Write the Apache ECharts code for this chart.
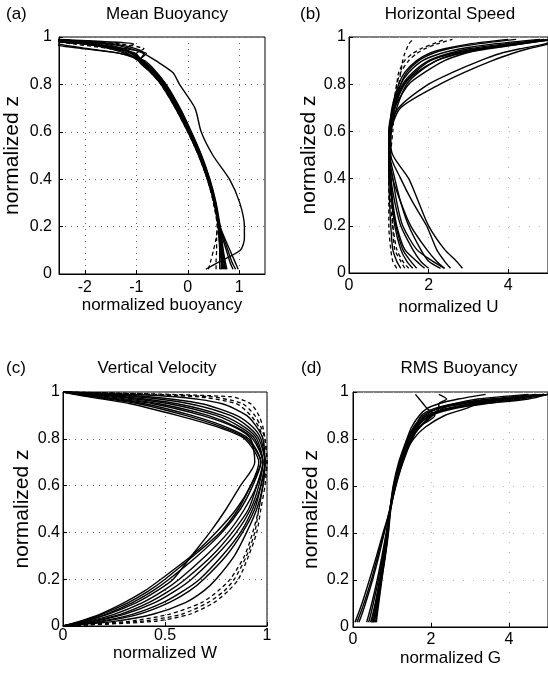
<!DOCTYPE html>
<html>
<head>
<meta charset="utf-8">
<title>normalized profiles</title>
<script src="https://cdn.jsdelivr.net/npm/echarts@6/dist/echarts.min.js"></script>
<style>
  html, body { margin: 0; padding: 0; background: #fff; }
  #chart { width: 548px; height: 677px; }
</style>
</head>
<body>
<div id="chart"></div>
<script>
// z levels (normalized height) the profiles are read at
const zBuoy = [0.02, 0.05, 0.1, 0.15, 0.2, 0.3, 0.4, 0.5, 0.6, 0.7, 0.8, 0.85, 0.9, 0.93, 0.95, 0.97, 0.98, 0.99];
const zSpeed = [0.02, 0.05, 0.1, 0.2, 0.3, 0.4, 0.5, 0.6, 0.7, 0.8, 0.85, 0.9, 0.93, 0.95, 0.97, 0.99];
const zVel = [0, 0.02, 0.05, 0.1, 0.15, 0.2, 0.3, 0.4, 0.5, 0.6, 0.7, 0.8, 0.85, 0.9, 0.95, 0.98, 1.0];
const zRms = [0.02, 0.05, 0.1, 0.2, 0.3, 0.4, 0.5, 0.6, 0.7, 0.8, 0.85, 0.9, 0.93, 0.95, 0.97, 0.99];

// (a) mean buoyancy
const meanBuoyancy = [
  [0.72, 0.70, 0.67, 0.64, 0.61, 0.53, 0.41, 0.25, 0.05, -0.18, -0.46, -0.66, -0.90, -1.10, -1.30, -1.75, -2.20, -2.60],
  [0.66, 0.65, 0.63, 0.61, 0.59, 0.51, 0.38, 0.21, 0.00, -0.24, -0.52, -0.72, -0.96, -1.16, -1.42, -1.95, -2.45, -2.60],
  [0.76, 0.73, 0.69, 0.66, 0.63, 0.55, 0.43, 0.27, 0.07, -0.15, -0.42, -0.62, -0.86, -1.04, -1.24, -1.60, -2.05, -2.60],
  [0.98, 0.92, 0.82, 0.72, 0.63, 0.53, 0.40, 0.24, 0.03, -0.20, -0.48, -0.68, -0.92, -1.20, -1.50, -2.00, -2.50, -2.60],
  [0.93, 0.86, 0.78, 0.70, 0.62, 0.52, 0.40, 0.23, 0.02, -0.21, -0.49, -0.70, -0.93, -0.85, -1.00, -1.40, -1.90, -2.60],
  [0.35, 0.60, 1.02, 1.10, 1.10, 1.01, 0.81, 0.49, 0.26, 0.14, -0.16, -0.29, -0.62, -0.85, -1.10, -1.50, -2.00, -2.60],
  [0.40, 0.44, 0.50, 0.55, 0.58, 0.50, 0.40, 0.24, 0.04, -0.19, -0.47, -0.67, -0.91, -1.00, -0.85, -1.30, -1.80, -2.60],
  [0.62, 0.62, 0.62, 0.61, 0.60, 0.52, 0.40, 0.23, 0.02, -0.21, -0.50, -0.69, -0.93, -1.30, -1.90, -2.50, -2.60, -2.60],
  [0.88, 0.82, 0.75, 0.68, 0.62, 0.53, 0.41, 0.24, 0.04, -0.19, -0.47, -0.67, -0.91, -1.00, -1.40, -2.00, -2.40, -2.60],
  [0.55, 0.55, 0.56, 0.56, 0.57, 0.50, 0.38, 0.21, 0.00, -0.24, -0.52, -0.72, -0.96, -1.20, -1.50, -2.20, -2.50, -2.60],
  [0.70, 0.68, 0.66, 0.63, 0.60, 0.52, 0.39, 0.22, 0.01, -0.22, -0.50, -0.70, -0.94, -1.18, -1.20, -1.05, -1.60, -2.60],
  [0.64, 0.66, 0.65, 0.63, 0.61, 0.54, 0.42, 0.26, 0.06, -0.17, -0.45, -0.64, -0.88, -1.08, -1.35, -1.85, -2.30, -2.60],
  [0.68, 0.67, 0.64, 0.62, 0.60, 0.53, 0.42, 0.26, 0.06, -0.16, -0.43, -0.60, -0.84, -1.30, -2.00, -2.60, -2.60, -2.60],
  [0.74, 0.71, 0.68, 0.65, 0.62, 0.54, 0.40, 0.22, 0.01, -0.23, -0.51, -0.71, -0.95, -0.80, -1.20, -1.80, -2.30, -2.60]
];
const meanBuoyancyDashed = [6, 9];

// (b) horizontal speed
const horizontalSpeed = [
  [1.30, 1.20, 1.10, 1.05, 1.02, 1.00, 1.00, 1.02, 1.10, 1.30, 1.50, 1.85, 2.30, 2.80, 3.60, 4.80],
  [2.00, 1.80, 1.60, 1.30, 1.15, 1.05, 1.00, 1.03, 1.12, 1.35, 1.60, 2.00, 2.50, 3.00, 3.90, 5.10],
  [2.40, 2.20, 1.95, 1.55, 1.30, 1.10, 1.02, 1.05, 1.15, 1.40, 1.70, 2.20, 2.70, 3.30, 4.20, 5.20],
  [2.55, 2.40, 2.20, 1.95, 1.60, 1.30, 1.05, 1.06, 1.30, 2.29, 2.90, 3.60, 4.10, 4.50, 5.00, 5.20],
  [2.85, 2.70, 2.40, 2.00, 1.75, 1.50, 1.10, 1.00, 1.25, 2.00, 2.60, 3.30, 3.80, 4.30, 4.90, 5.20],
  [1.50, 1.35, 1.20, 1.10, 1.05, 1.05, 1.05, 1.10, 1.15, 1.25, 1.30, 1.35, 1.40, 1.45, 1.50, 1.60],
  [1.90, 1.70, 1.40, 1.20, 1.10, 1.05, 1.00, 1.05, 1.15, 1.50, 1.90, 2.40, 2.90, 3.40, 4.30, 5.10],
  [2.30, 2.00, 1.80, 1.50, 1.30, 1.15, 1.02, 1.00, 1.10, 1.30, 1.45, 1.75, 2.10, 2.50, 3.20, 4.20],
  [1.20, 1.10, 1.05, 1.00, 1.00, 1.00, 1.00, 1.05, 1.15, 1.20, 1.30, 1.50, 1.70, 1.90, 2.20, 2.60],
  [2.40, 2.10, 1.70, 1.35, 1.20, 1.10, 1.00, 1.05, 1.20, 1.45, 1.75, 2.20, 2.80, 3.50, 4.30, 5.00],
  [1.60, 1.45, 1.30, 1.15, 1.08, 1.03, 1.00, 1.02, 1.08, 1.25, 1.40, 1.70, 2.00, 2.40, 3.00, 4.00],
  [1.40, 1.30, 1.15, 1.10, 1.08, 1.05, 1.03, 1.05, 1.10, 1.20, 1.25, 1.40, 1.60, 1.80, 2.10, 2.40],
  [1.70, 1.55, 1.35, 1.18, 1.08, 1.02, 1.00, 1.03, 1.12, 1.38, 1.65, 2.05, 2.60, 3.20, 4.00, 4.90]
];
const horizontalSpeedDashed = [5, 8, 11];

// (c) vertical velocity
const verticalVelocity = [
  [0, 0.08, 0.18, 0.30, 0.40, 0.48, 0.63, 0.75, 0.85, 0.92, 0.96, 0.89, 0.76, 0.56, 0.33, 0.12, 0],
  [0, 0.10, 0.21, 0.34, 0.44, 0.52, 0.66, 0.78, 0.87, 0.93, 0.97, 0.91, 0.80, 0.63, 0.40, 0.16, 0],
  [0, 0.12, 0.25, 0.39, 0.49, 0.57, 0.70, 0.81, 0.89, 0.95, 0.98, 0.93, 0.85, 0.71, 0.47, 0.22, 0],
  [0, 0.15, 0.30, 0.45, 0.55, 0.63, 0.75, 0.85, 0.92, 0.96, 0.98, 0.95, 0.89, 0.78, 0.56, 0.30, 0],
  [0, 0.20, 0.37, 0.52, 0.62, 0.69, 0.80, 0.88, 0.94, 0.97, 0.99, 0.97, 0.93, 0.85, 0.68, 0.42, 0],
  [0, 0.25, 0.44, 0.60, 0.69, 0.75, 0.84, 0.90, 0.95, 0.98, 0.99, 0.98, 0.95, 0.90, 0.78, 0.55, 0],
  [0, 0.32, 0.52, 0.68, 0.76, 0.82, 0.89, 0.93, 0.96, 0.98, 1.00, 0.99, 0.97, 0.94, 0.88, 0.72, 0],
  [0, 0.45, 0.62, 0.74, 0.81, 0.86, 0.91, 0.95, 0.97, 0.99, 1.00, 0.99, 0.98, 0.96, 0.92, 0.82, 0],
  [0, 0.10, 0.22, 0.36, 0.46, 0.54, 0.63, 0.72, 0.80, 0.87, 0.94, 0.92, 0.84, 0.68, 0.44, 0.18, 0],
  [0, 0.18, 0.34, 0.49, 0.59, 0.67, 0.78, 0.87, 0.93, 0.97, 0.99, 0.96, 0.91, 0.82, 0.62, 0.36, 0],
  [0, 0.09, 0.19, 0.32, 0.42, 0.50, 0.64, 0.77, 0.86, 0.92, 0.97, 0.90, 0.78, 0.60, 0.37, 0.14, 0],
  [0, 0.14, 0.28, 0.42, 0.52, 0.60, 0.73, 0.83, 0.91, 0.95, 0.98, 0.94, 0.87, 0.75, 0.52, 0.26, 0],
  [0, 0.38, 0.58, 0.71, 0.79, 0.84, 0.90, 0.94, 0.96, 0.98, 0.99, 0.98, 0.96, 0.92, 0.85, 0.65, 0]
];
const verticalVelocityDashed = [6, 7, 12];

// (d) rms buoyancy
const rmsBuoyancy = [
  [0.50, 0.55, 0.60, 0.70, 0.80, 0.88, 0.95, 1.05, 1.20, 1.40, 1.55, 1.80, 2.20, 2.80, 3.80, 4.90],
  [0.45, 0.50, 0.57, 0.68, 0.78, 0.87, 0.95, 1.07, 1.22, 1.45, 1.60, 1.90, 2.40, 3.10, 4.10, 5.00],
  [0.55, 0.58, 0.63, 0.72, 0.82, 0.90, 0.96, 1.08, 1.25, 1.48, 1.65, 1.95, 2.50, 3.30, 4.30, 5.00],
  [0.10, 0.17, 0.28, 0.47, 0.63, 0.79, 0.95, 1.05, 1.20, 1.55, 1.85, 2.35, 2.90, 3.20, 3.90, 4.90],
  [0.05, 0.12, 0.23, 0.42, 0.60, 0.77, 0.95, 1.06, 1.22, 1.45, 1.62, 2.00, 2.60, 3.40, 4.50, 5.00],
  [0.60, 0.62, 0.66, 0.74, 0.82, 0.89, 0.95, 1.03, 1.17, 1.38, 1.50, 1.70, 1.90, 2.20, 2.70, 3.40],
  [0.35, 0.40, 0.48, 0.62, 0.74, 0.85, 0.95, 1.08, 1.26, 1.50, 1.68, 2.10, 1.90, 1.80, 1.70, 1.60],
  [0.40, 0.45, 0.52, 0.65, 0.76, 0.86, 0.96, 1.10, 1.28, 1.52, 1.70, 2.00, 2.20, 2.20, 2.40, 2.20],
  [0.52, 0.56, 0.61, 0.71, 0.81, 0.89, 0.96, 1.06, 1.21, 1.43, 1.58, 1.85, 2.20, 2.80, 3.70, 4.90],
  [0.15, 0.22, 0.32, 0.50, 0.66, 0.80, 0.94, 1.04, 1.19, 1.40, 1.57, 1.90, 2.50, 3.00, 4.00, 5.00],
  [0.58, 0.60, 0.64, 0.73, 0.83, 0.91, 0.97, 1.09, 1.27, 1.50, 1.72, 2.05, 2.30, 2.60, 3.20, 4.50],
  [0.48, 0.52, 0.58, 0.69, 0.79, 0.88, 0.95, 1.06, 1.23, 1.46, 1.60, 1.75, 2.10, 2.60, 3.50, 4.70]
];

const buoyTicks = [-2, -1, 0, 1];
const speedTicks = [0, 2, 4];
const velTicks = [0, 0.5, 1];
const rmsTicks = [0, 2, 4];

const FONT = 'Liberation Sans, Arial, sans-serif';

const chart = echarts.init(document.getElementById('chart'));

function profileSeries(profiles, zs, idx, dashed) {
  return profiles.map((xs, k) => {
    const isDashed = dashed.indexOf(k) >= 0;
    return {
      type: 'line',
      xAxisIndex: idx,
      yAxisIndex: idx,
      data: zs.map((z, i) => [xs[i], z]),
      symbol: 'none',
      smooth: 0.25,
      silent: true,
      clip: true,
      lineStyle: {
        color: '#000',
        width: isDashed ? 1.3 : 1.4,
        type: isDashed ? [4, 3] : 'solid'
      }
    };
  });
}

function xAxis(idx, min, max, ticks, name, margin, gap, faint) {
  return {
    type: 'value',
    gridIndex: idx,
    min: min,
    max: max,
    name: name,
    nameLocation: 'middle',
    nameGap: gap,
    nameTextStyle: { color: '#000', fontSize: 17, fontFamily: FONT },
    axisLine: { show: true, onZero: false, lineStyle: { color: '#000', width: 1 } },
    axisTick: { show: true, inside: true, length: 4, customValues: ticks, lineStyle: { color: '#000' } },
    axisLabel: { customValues: ticks, margin: margin, color: '#000', fontSize: 16, fontFamily: FONT },
    splitLine: { show: true, lineStyle: { color: faint ? '#bbb' : '#666', type: faint ? [1, 9] : [1, 5], width: 1 } }
  };
}

function yAxis(idx, margin, gap, faint) {
  return {
    type: 'value',
    gridIndex: idx,
    min: 0,
    max: 1,
    interval: 0.2,
    name: 'normalized z',
    nameLocation: 'middle',
    nameGap: gap,
    nameTextStyle: { color: '#000', fontSize: 21, fontFamily: FONT },
    axisLine: { show: true, onZero: false, lineStyle: { color: '#000', width: 1 } },
    axisTick: { show: true, inside: true, length: 4, lineStyle: { color: '#000' } },
    axisLabel: { margin: margin, color: '#000', fontSize: 16, fontFamily: FONT },
    splitLine: { show: true, lineStyle: { color: faint ? '#bbb' : '#666', type: faint ? [1, 9] : [1, 5], width: 1 } }
  };
}

function titleItem(text, left, top, align) {
  return {
    text: text,
    left: left,
    top: top,
    padding: 0,
    textAlign: align,
    textStyle: { color: '#000', fontSize: 17, fontWeight: 'normal', fontFamily: FONT }
  };
}

const gridStyle = { show: true, borderColor: '#000', borderWidth: 1, backgroundColor: 'transparent' };

const option = {
  animation: false,
  backgroundColor: '#fff',
  title: [
    titleItem('(a)', 6, 6, 'left'),
    titleItem('Mean Buoyancy', 167, 6, 'center'),
    titleItem('(b)', 300, 6, 'left'),
    titleItem('Horizontal Speed', 450, 6, 'center'),
    titleItem('(c)', 6, 360, 'left'),
    titleItem('Vertical Velocity', 157, 360, 'center'),
    titleItem('(d)', 301, 360, 'left'),
    titleItem('RMS Buoyancy', 459, 360, 'center')
  ],
  grid: [
    Object.assign({ left: 59, top: 37, width: 206, height: 237 }, gridStyle),
    Object.assign({ left: 349, top: 37, width: 202, height: 236 }, gridStyle),
    Object.assign({ left: 63, top: 392, width: 204, height: 234 }, gridStyle),
    Object.assign({ left: 353, top: 392, width: 202, height: 235 }, gridStyle)
  ],
  xAxis: [
    xAxis(0, -2.5, 1.5, buoyTicks, 'normalized buoyancy', 6, 23, false),
    xAxis(1, 0, 5, speedTicks, 'normalized U', 5, 26, true),
    xAxis(2, 0, 1, velTicks, 'normalized W', 2, 19, false),
    xAxis(3, 0, 5, rmsTicks, 'normalized G', 5, 23, true)
  ],
  yAxis: [
    yAxis(0, 7, 36, false),
    yAxis(1, 3, 28, true),
    yAxis(2, 3, 30, false),
    yAxis(3, 4, 31, true)
  ],
  series: [].concat(
    profileSeries(meanBuoyancy, zBuoy, 0, meanBuoyancyDashed),
    profileSeries(horizontalSpeed, zSpeed, 1, horizontalSpeedDashed),
    profileSeries(verticalVelocity, zVel, 2, verticalVelocityDashed),
    profileSeries(rmsBuoyancy, zRms, 3, [])
  )
};

chart.setOption(option);
</script>
</body>
</html>
